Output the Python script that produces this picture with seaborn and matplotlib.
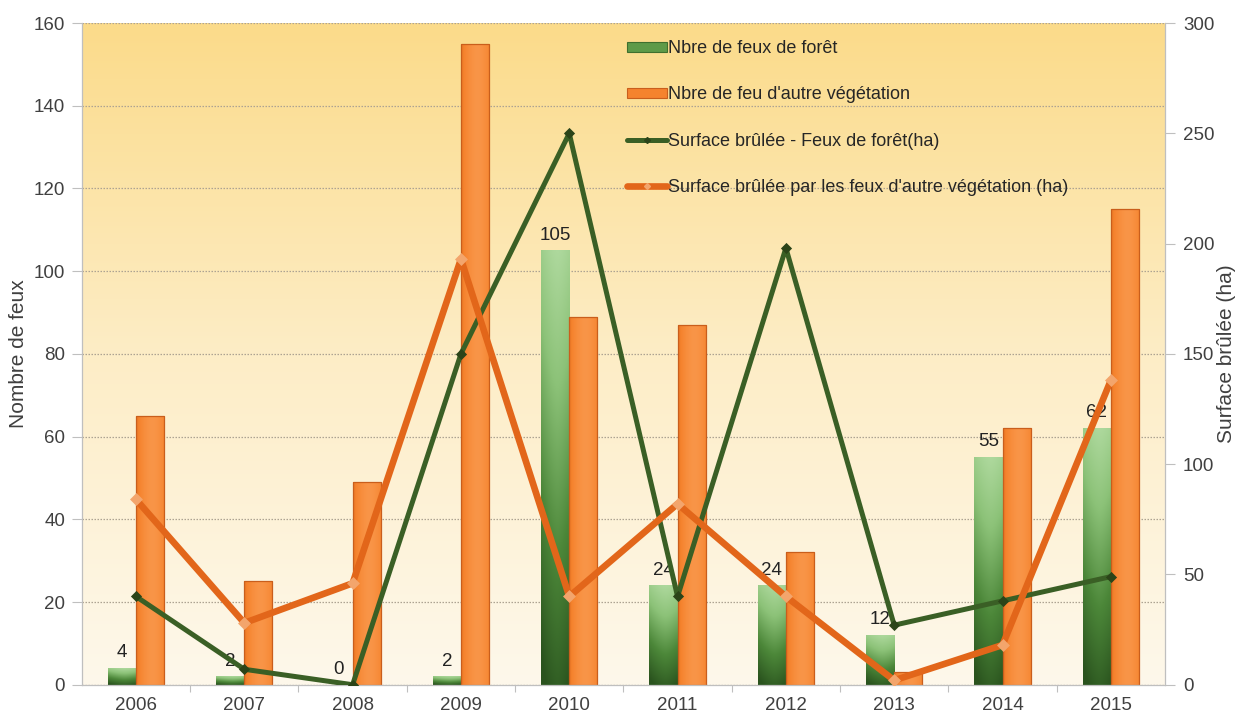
import numpy as np
import pandas as pd
import matplotlib
matplotlib.use("Agg")
import matplotlib.pyplot as plt
from matplotlib.colors import LinearSegmentedColormap
from matplotlib.patches import Patch
from matplotlib.lines import Line2D
from matplotlib.ticker import FixedLocator
import seaborn as sns

# ---- data ----
years = ["2006", "2007", "2008", "2009", "2010", "2011", "2012", "2013", "2014", "2015"]
feux_foret = [4, 2, 0, 2, 105, 24, 24, 12, 55, 62]
feux_autre = [65, 25, 49, 155, 89, 87, 32, 3, 62, 115]
surface_foret = [40, 7, 0, 150, 250, 40, 198, 27, 38, 49]
surface_autre = [84, 28, 46, 193, 40, 82, 40, 2, 18, 138]

lbl_foret = "Nbre de feux de forêt"
lbl_autre = "Nbre de feu d'autre végétation"
lbl_sf = "Surface brûlée - Feux de forêt(ha)"
lbl_sa = "Surface brûlée par les feux d'autre végétation (ha)"

sns.set_style("white")
plt.rcParams["font.family"] = ["Liberation Sans", "DejaVu Sans"]

GREEN_BAR = "#5E9A48"
ORANGE_BAR = "#F5832D"
GREEN_LINE = "#3A5F25"
ORANGE_LINE = "#E2661A"
TEXT = "#404040"
TICK_FS = 13.5

fig = plt.figure(figsize=(12.4, 7.2), dpi=100)
ax = fig.add_axes([0.066, 0.049, 0.8735, 0.919])

bars = pd.DataFrame({
    "annee": years * 2,
    "serie": [lbl_foret] * len(years) + [lbl_autre] * len(years),
    "valeur": feux_foret + feux_autre,
})

sns.barplot(data=bars, x="annee", y="valeur", hue="serie",
            hue_order=[lbl_foret, lbl_autre], order=years,
            palette=[GREEN_BAR, ORANGE_BAR], width=0.52, saturation=1,
            edgecolor="none", linewidth=0, legend=False, ax=ax)

# panel background: warm gradient fading downwards
bg = LinearSegmentedColormap.from_list("bg", ["#FEF8EB", "#FDEDC6", "#FBDB8A"])
ax.imshow(np.linspace(0, 1, 256).reshape(-1, 1), cmap=bg, origin="lower",
          extent=(0, 1, 0, 1), transform=ax.transAxes, aspect="auto", zorder=0)
ax.patch.set_visible(False)

# shaded fills for the bars
green_cm = LinearSegmentedColormap.from_list("g", ["#2A531E", "#4C8739", "#8CC278", "#B6DEA6"])
orange_cm = LinearSegmentedColormap.from_list("o", ["#D8621A", "#F5832D", "#F99548"])


def shade(patch, cmap, vertical):
    x0, y0 = patch.get_x(), patch.get_y()
    w, h = patch.get_width(), patch.get_height()
    if h <= 0:
        return
    xs = np.linspace(-1, 1, 64)
    across = 1 - 0.55 * np.abs(xs - 0.15) ** 1.6
    if vertical:
        down = np.linspace(1, 0, 128).reshape(-1, 1)
        arr = np.clip(0.85 * down + 0.2 * (across - 0.6), 0, 1)
    else:
        arr = np.tile(np.clip(across, 0, 1), (16, 1))
    im = ax.imshow(arr, cmap=cmap, vmin=0, vmax=1, origin="upper",
                   extent=(x0, x0 + w, y0, y0 + h), aspect="auto",
                   zorder=1.2, interpolation="bilinear")
    im.set_clip_path(patch)


for p in ax.containers[0]:
    shade(p, green_cm, True)
for p in ax.containers[1]:
    shade(p, orange_cm, False)
    p.set_edgecolor("#C95E1C")
    p.set_linewidth(0.9)
    p.set_zorder(1.3)
    p.set_facecolor("none")

ax.bar_label(ax.containers[0], labels=[str(v) for v in feux_foret],
             padding=5, fontsize=TICK_FS, color="#222222", zorder=5)

# left axis
ax.set_ylim(0, 160)
ax.set_yticks(np.arange(0, 161, 20))
ax.set_xlim(-0.5, len(years) - 0.5)
ax.set_ylabel("Nombre de feux", fontsize=15, color=TEXT, labelpad=4)
ax.set_xlabel("")
ax.yaxis.grid(True, linestyle=(0, (1.2, 1.2)), color="#ADA392", linewidth=0.9)
ax.set_axisbelow(True)
ax.tick_params(axis="y", left=True, length=7, width=0.8, color="#BFBFBF",
               labelsize=TICK_FS, labelcolor=TEXT, pad=5)
ax.tick_params(axis="x", which="major", bottom=False, labelsize=TICK_FS,
               labelcolor=TEXT, pad=5)
ax.xaxis.set_minor_locator(FixedLocator(np.arange(0.5, len(years) - 1, 1.0)))
ax.tick_params(axis="x", which="minor", bottom=True, length=5, width=0.8,
               color="#BFBFBF")
for side in ["top", "right"]:
    ax.spines[side].set_visible(False)
for side in ["left", "bottom"]:
    ax.spines[side].set_color("#BFBFBF")
    ax.spines[side].set_linewidth(0.9)

# right axis: burnt surface lines
ax2 = ax.twinx()
sns.pointplot(x=years, y=surface_foret, order=years, ax=ax2, color=GREEN_LINE,
              markers="D", markersize=3, linewidth=3.6, errorbar=None, zorder=3)
sns.pointplot(x=years, y=surface_autre, order=years, ax=ax2, color=ORANGE_LINE,
              markers="D", markersize=3, linewidth=4.8, errorbar=None, zorder=4)
for ln, mc in zip(ax2.lines, ["#2B4419", "#F3A56C"]):
    ln.set_markerfacecolor(mc)
    ln.set_markeredgecolor(mc)

ax2.set_ylim(0, 300)
ax2.set_yticks(np.arange(0, 301, 50))
ax2.set_xlim(-0.5, len(years) - 0.5)
ax2.set_ylabel("Surface brûlée (ha)", fontsize=15, color=TEXT, labelpad=2)
ax2.tick_params(axis="y", right=True, length=7, width=0.8, color="#BFBFBF",
                labelsize=TICK_FS, labelcolor=TEXT, pad=6)
for side in ["top", "left", "bottom"]:
    ax2.spines[side].set_visible(False)
ax2.spines["right"].set_color("#BFBFBF")
ax2.spines["right"].set_linewidth(0.9)

ax.set_xticks(range(len(years)))
ax.set_xticklabels(years)

handles = [
    Patch(facecolor="#5E9A48", edgecolor="#3F6F2E", linewidth=0.8),
    Patch(facecolor=ORANGE_BAR, edgecolor="#C95E1C", linewidth=0.8),
    Line2D([], [], color=GREEN_LINE, linewidth=3.6, marker="D", markersize=3,
           markerfacecolor="#2B4419", markeredgecolor="#2B4419"),
    Line2D([], [], color=ORANGE_LINE, linewidth=4.8, marker="D", markersize=3,
           markerfacecolor="#F3A56C", markeredgecolor="#F3A56C"),
]
leg = ax2.legend(handles, [lbl_foret, lbl_autre, lbl_sf, lbl_sa],
                 loc="upper left", bbox_to_anchor=(0.497, 0.985),
                 frameon=False, fontsize=13, labelspacing=1.62,
                 handlelength=2.2, handleheight=0.45, handletextpad=0.05,
                 borderaxespad=0)
for t in leg.get_texts():
    t.set_color("#262626")

fig.savefig("out.png", dpi=100, facecolor="white")
